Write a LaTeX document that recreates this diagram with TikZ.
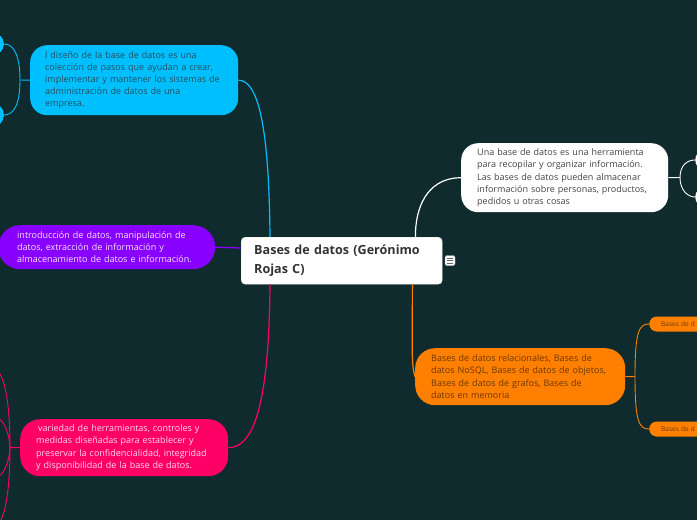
\documentclass[tikz,border=0pt]{standalone}
\usepackage{fontspec}
\setmainfont{Open Sans}
\usetikzlibrary{calc}
\definecolor{bg}{HTML}{102B2D}
\definecolor{cblue}{HTML}{00BFFF}
\definecolor{cbluetxt}{HTML}{26505E}
\definecolor{cpurple}{HTML}{8800FF}
\definecolor{cpurpletxt}{HTML}{F3E6FF}
\definecolor{cpink}{HTML}{FF0066}
\definecolor{cpinktxt}{HTML}{FFD9E8}
\definecolor{corange}{HTML}{FF8000}
\definecolor{corangetxt}{HTML}{6A3800}
\definecolor{cwhitetxt}{HTML}{444444}
\definecolor{ctitle}{HTML}{333333}
\tikzset{
  topic/.style={rectangle, anchor=north west, inner ysep=0pt, align=left,
    font=\fontsize{9}{12.2}\selectfont},
  stub/.style={rectangle, inner sep=0pt},
  link/.style={line width=1.2pt},
  sublink/.style={line width=0.9pt},
}
\begin{document}
\begin{tikzpicture}[x=1pt,y=-1pt]
\fill[bg] (0,0) rectangle (697,520);
\useasboundingbox (0,0) rectangle (697,520);
\clip (0,0) rectangle (697,520);

% central topic
\node[topic, fill=white, draw=black!12, rounded corners=4pt, text=ctitle,
  text width=175pt, inner xsep=13pt, minimum height=47pt,
  font=\fontsize{12.6}{19}\selectfont\bfseries] (center) at (241,237)
  {Bases de datos (Gerónimo\\Rojas C)};

% note icon
\node[stub, fill=white, draw=black!35, rounded corners=1.5pt, minimum width=10pt, minimum height=10pt] (note) at (450,260.5) {};
\draw[black!60, line width=0.7pt] ($(note.center)+(-2.8,-2.5)$) -- ++(5.6,0)
  ($(note.center)+(-2.8,0)$) -- ++(5.6,0)
  ($(note.center)+(-2.8,2.5)$) -- ++(5.6,0);

% main topics
\node[topic, fill=cblue, text=cbluetxt, rounded corners=17pt,
  text width=178pt, inner xsep=15pt, minimum height=70pt] (blue) at (30,45)
  {l diseño de la base de datos es una\\colección de pasos que ayudan a crear,\\implementar y mantener los sistemas de\\administración de datos de una\\empresa.};

\node[topic, fill=cpurple, text=cpurpletxt, rounded corners=22pt,
  text width=179pt, inner xsep=19pt, minimum height=44pt] (purple) at (-2,225)
  {introducción de datos, manipulación de\\datos, extracción de información y\\almacenamiento de datos e información.};

\node[topic, fill=cpink, text=cpinktxt, rounded corners=20pt,
  text width=176pt, inner xsep=16pt, minimum height=57pt] (pink) at (20,419)
  {\hspace{2pt}variedad de herramientas, controles y\\medidas diseñadas para establecer y\\preservar la confidencialidad, integridad\\y disponibilidad de la base de datos.};

\node[topic, fill=white, text=cwhitetxt, rounded corners=17pt,
  text width=175pt, inner xsep=16pt, minimum height=69pt] (white) at (461,143)
  {Una base de datos es una herramienta\\para recopilar y organizar información.\\Las bases de datos pueden almacenar\\información sobre personas, productos,\\pedidos u otras cosas};

\node[topic, fill=corange, text=corangetxt, rounded corners=20pt,
  text width=178pt, inner xsep=16pt, minimum height=57pt] (orange) at (415,348)
  {Bases de datos relacionales, Bases de\\datos NoSQL, Bases de datos de objetos,\\Bases de datos de grafos, Bases de\\datos en memoria};

% partially visible sub-topics
\node[stub, fill=cblue, rounded corners=10pt, minimum width=40pt, minimum height=21pt, anchor=east] (b1) at (4,44) {};
\node[stub, fill=cblue, rounded corners=11pt, minimum width=40pt, minimum height=23pt, anchor=east] (b2) at (4,115) {};
\node[stub, fill=white, rounded corners=10pt, minimum width=40pt, minimum height=20pt, anchor=west] (w1) at (695,160) {};
\node[stub, fill=white, rounded corners=10pt, minimum width=40pt, minimum height=20pt, anchor=west] (w2) at (695,197) {};
\node[stub, fill=corange, text=corangetxt, rounded corners=7.5pt, minimum height=15pt,
  inner xsep=12pt, text width=50pt, align=left, anchor=west, font=\fontsize{6.5}{7.5}\selectfont] (o1) at (649,324) {Bases de d};
\node[stub, fill=corange, text=corangetxt, rounded corners=7.5pt, minimum height=15pt,
  inner xsep=12pt, text width=50pt, align=left, anchor=west, font=\fontsize{6.5}{7.5}\selectfont] (o2) at (649,429) {Bases de d};

\coordinate (p1) at (-4,370);
\coordinate (p2) at (-4,526);
\coordinate (p3) at (-4,418);
\coordinate (p4) at (-4,477);

% junctions
\coordinate (bj) at (20,80);
\coordinate (pj) at (10,447.5);
\coordinate (wj) at (680,177.5);
\coordinate (oj) at (635,376.5);

% connectors centre -> main topics
\draw[link, cblue] (blue.east) .. controls +(20,0) and +(-1,-110) .. ($(center.north west)+(29,0)$);
\draw[link, cpink] (pink.east) .. controls +(28,0) and +(-1,110) .. ($(center.south west)+(29,0)$);
\draw[link, cpurple] (purple.east) .. controls +(12,0) and +(-12,0) .. ($(center.north west)+(0,11)$);
\draw[link, white] ($(center.north east)+(-27,0)$) .. controls +(0,-38) and +(-28,0) .. (white.west);
\draw[link, corange] ($(center.south east)+(-30,0)$) .. controls +(0,60) and +(-4,-12) .. (orange.west);

% connectors to sub-topics
\draw[sublink, cblue] (blue.west) -- (bj);
\draw[sublink, cblue] (bj) .. controls +(0,-26) and +(9,0) .. (b1.east);
\draw[sublink, cblue] (bj) .. controls +(0,26) and +(9,0) .. (b2.east);

\draw[sublink, cpink] (pink.west) -- (pj);
\draw[sublink, cpink] (pj) .. controls +(0,-55) and +(6,2) .. (p1);
\draw[sublink, cpink] (pj) .. controls +(0,55) and +(6,-2) .. (p2);
\draw[sublink, cpink] (pj) .. controls +(-1,-18) and +(6,0) .. (p3);
\draw[sublink, cpink] (pj) .. controls +(-1,18) and +(6,0) .. (p4);

\draw[sublink, white] (white.east) -- (wj);
\draw[sublink, white] (wj) .. controls +(0,-13) and +(-7,0) .. (w1.west);
\draw[sublink, white] (wj) .. controls +(0,13) and +(-7,0) .. (w2.west);

\draw[sublink, corange] (orange.east) -- (oj);
\draw[sublink, corange] (oj) .. controls +(0,-45) and +(-10,0) .. (o1.west);
\draw[sublink, corange] (oj) .. controls +(0,45) and +(-10,0) .. (o2.west);
\end{tikzpicture}
\end{document}
